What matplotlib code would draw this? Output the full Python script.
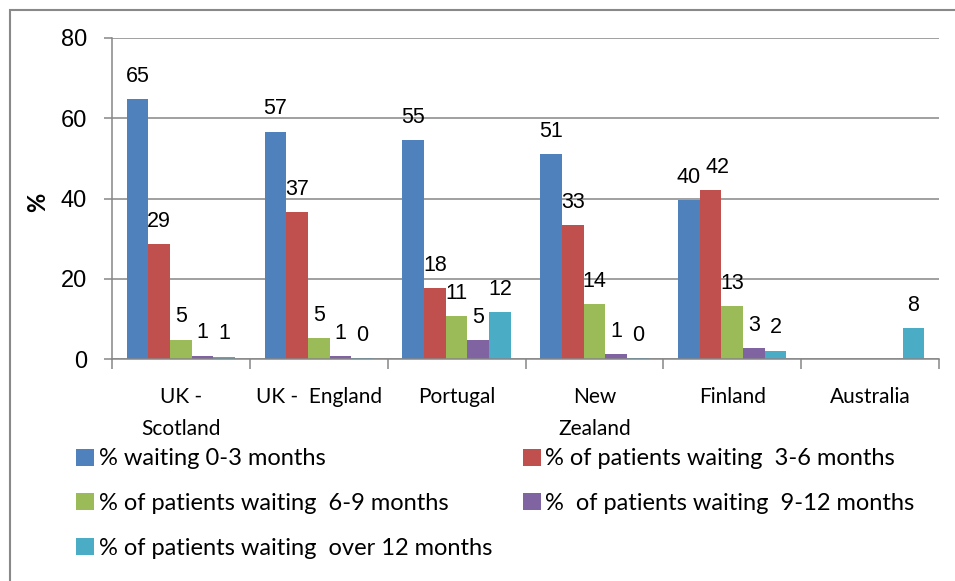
import numpy as np
import matplotlib
matplotlib.use('Agg')
import matplotlib.pyplot as plt
from matplotlib.patches import Rectangle

# --- data ---
countries = ['UK -\nScotland', 'UK -  England', 'Portugal', 'New\nZealand', 'Finland', 'Australia']
series_names = ['% waiting 0-3 months',
                '% of patients waiting  3-6 months',
                '% of patients waiting  6-9 months',
                '%  of patients waiting  9-12 months',
                '% of patients waiting  over 12 months']
wait_0_3 = [64.8, 56.6, 54.6, 51.0, 39.6, np.nan]
wait_3_6 = [28.6, 36.6, 17.6, 33.4, 42.0, np.nan]
wait_6_9 = [4.8, 5.2, 10.6, 13.6, 13.2, np.nan]
wait_9_12 = [0.8, 0.7, 4.7, 1.2, 2.7, np.nan]
wait_12_plus = [0.6, 0.2, 11.6, 0.2, 2.1, 7.7]
colors = ['#4F81BD', '#C0504D', '#9BBB59', '#8064A2', '#4BACC6']

W, H = 955, 581
fig = plt.figure(figsize=(W / 100, H / 100), dpi=100)
ax = fig.add_axes([112 / W, 1 - 359 / H, 827 / W, 321 / H])

grey = '#868686'
num_font = 'Liberation Sans'
txt_font = ['Lato', 'DejaVu Sans']

x = np.arange(len(countries))
width = 0.157
all_series = [wait_0_3, wait_3_6, wait_6_9, wait_9_12, wait_12_plus]
bars = []
for i, vals in enumerate(all_series):
    b = ax.bar(x + (i - 2) * width, vals, width, color=colors[i], label=series_names[i])
    bars.append(b)
    for j, (xi, v) in enumerate(zip(x + (i - 2) * width, vals)):
        if np.isnan(v):
            continue
        # Finland's 3-6 label is nudged right in the original so it clears the 0-3 one
        dx = 5 if (j == 4 and i == 1) else 0
        ax.annotate('%.0f' % v, (xi, v), xytext=(dx, 16.5), textcoords='offset points',
                    ha='center', va='center', fontsize=15.5, family=num_font)

ax.set_xlim(-0.5, 5.5)
ax.set_ylim(0, 80)
ax.set_yticks([0, 20, 40, 60, 80])
ax.yaxis.grid(True, color=grey, linewidth=1.1)
ax.set_axisbelow(True)
for side in ['top', 'right']:
    ax.spines[side].set_visible(False)
for side in ['left', 'bottom']:
    ax.spines[side].set_color(grey)
    ax.spines[side].set_linewidth(1.1)

ax.tick_params(axis='y', length=6, width=1.1, color=grey, pad=12, labelsize=17)
for lab in ax.get_yticklabels():
    lab.set_family(num_font)

ax.set_xticks(x)
ax.set_xticklabels(countries, fontsize=15, family=txt_font, linespacing=1.75, va='top')
ax.tick_params(axis='x', which='major', length=0, pad=20)
ax.set_xticks(np.arange(-0.5, 6), minor=True)
ax.tick_params(axis='x', which='minor', length=7, width=1.1, color=grey)

fig.text(38 / W, 1 - 202 / H, '%', rotation=90, ha='center', va='center',
         fontsize=17, fontweight='bold', family=txt_font)

# legend filled row by row like the original
order = [0, 2, 4, 1, 3]
leg = fig.legend([bars[i] for i in order], [series_names[i] for i in order],
                 loc='upper left', bbox_to_anchor=(67 / W, 1 - 439 / H), ncol=2,
                 frameon=False, prop={'family': txt_font, 'size': 17},
                 handlelength=0.75, handleheight=0.75, handletextpad=0.2,
                 labelspacing=1.0, columnspacing=1.3, borderaxespad=0)

# outer chart border
fig.patches.append(Rectangle((10 / W, -0.1), 1.2, 1 - 10 / H + 0.1, transform=fig.transFigure,
                             fill=False, edgecolor='#898989', linewidth=1.5))

fig.savefig('out.png', dpi=100)
